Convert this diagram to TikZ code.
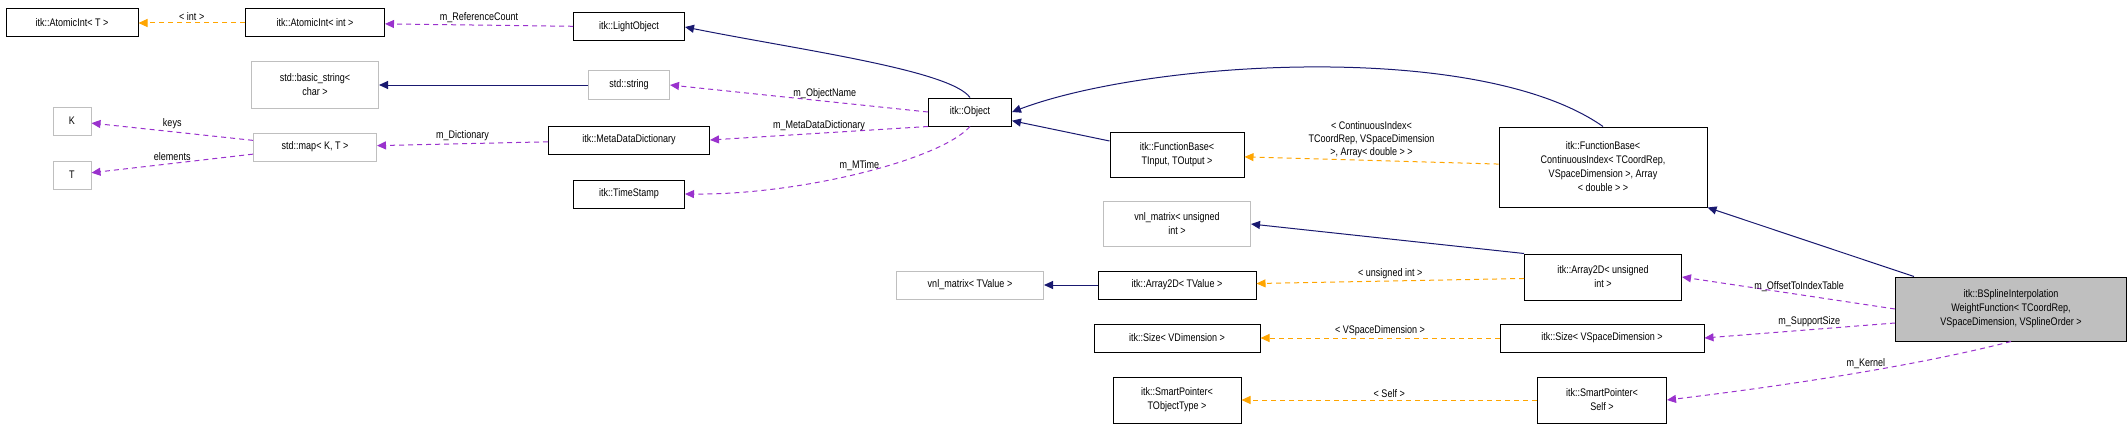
\documentclass[tikz,border=0pt]{standalone}
\usepackage{fontspec}
\setmainfont{Liberation Sans}[FakeStretch=0.82]
\usetikzlibrary{arrows.meta}
\definecolor{navy}{HTML}{191970}
\definecolor{purp}{HTML}{9A32CD}
\definecolor{orng}{HTML}{FFA500}
\tikzset{
  box/.style={draw=black,line width=1pt,inner sep=2pt,align=center,font=\fontsize{11}{14}\selectfont,minimum height=28pt},
  gbox/.style={box,draw=gray!50},
  inh/.style={navy,line width=1pt,-{Triangle[length=9pt,width=8pt]}},
  mem/.style={purp,line width=1pt,dashed,dash pattern=on 5pt off 4pt,-{Triangle[length=9pt,width=8pt]}},
  tpl/.style={orng,line width=1pt,dashed,dash pattern=on 5pt off 4pt,-{Triangle[length=9pt,width=8pt]}},
  lbl/.style={text=black,font=\fontsize{11}{13}\selectfont,align=center,inner sep=2pt}
}
\begin{document}
\begin{tikzpicture}[x=1pt,y=-1pt]
\useasboundingbox (0,0) rectangle (2128,428);
\node[box,minimum width=132pt] (aT) at (72,23) {itk::AtomicInt< T >};
\node[box,minimum width=139pt] (aI) at (315,23) {itk::AtomicInt< int >};
\node[box,minimum width=111pt] (lo) at (629,27) {itk::LightObject};
\node[gbox,minimum width=127pt,minimum height=46pt] (bs) at (315,85) {std::basic\_string<\\char >};
\node[gbox,minimum width=81pt] (ss) at (629,85) {std::string};
\node[gbox,minimum width=38pt] (K) at (72,121) {K};
\node[gbox,minimum width=38pt] (T) at (72,175) {T};
\node[gbox,minimum width=123pt] (mp) at (315,147) {std::map< K, T >};
\node[box,minimum width=161pt] (md) at (629,140) {itk::MetaDataDictionary};
\node[box,minimum width=111pt] (ts) at (629,194) {itk::TimeStamp};
\node[box,minimum width=83pt] (ob) at (970,112) {itk::Object};
\node[box,minimum width=134pt,minimum height=45pt] (fb1) at (1177,155) {itk::FunctionBase<\\TInput, TOutput >};
\node[box,minimum width=208pt,minimum height=80pt] (fb2) at (1603,167) {itk::FunctionBase<\\ContinuousIndex< TCoordRep,\\VSpaceDimension >, Array\\< double > >};
\node[gbox,minimum width=147pt,minimum height=45pt] (vu) at (1177,224) {vnl\_matrix< unsigned\\int >};
\node[box,minimum width=157pt,minimum height=46pt] (au) at (1603,277) {itk::Array2D< unsigned\\int >};
\node[gbox,minimum width=147pt] (vt) at (970,285) {vnl\_matrix< TValue >};
\node[box,minimum width=158pt] (at) at (1177,285) {itk::Array2D< TValue >};
\node[box,minimum width=166pt] (sv) at (1177,338) {itk::Size< VDimension >};
\node[box,minimum width=204pt] (ssd) at (1602,338) {itk::Size< VSpaceDimension >};
\node[box,minimum width=128pt,minimum height=46pt] (spt) at (1177,400) {itk::SmartPointer<\\TObjectType >};
\node[box,minimum width=129pt,minimum height=46pt] (sps) at (1602,400) {itk::SmartPointer<\\Self >};
\node[box,fill=gray!50,minimum width=231pt,minimum height=64pt] (bsp) at (2011,309) {itk::BSplineInterpolation\\WeightFunction< TCoordRep,\\VSpaceDimension, VSplineOrder >};

\draw[tpl] (aI) -- node[lbl,above]{< int >} (aT);
\draw[mem] (lo) -- node[lbl,above]{m\_ReferenceCount} (aI);
\draw[inh] (ob.north) .. controls (950,70) and (800,50) .. (lo.east);
\draw[inh] (ss) -- (bs);
\draw[mem] (ob.west) -- node[lbl,above,pos=0.4]{m\_ObjectName} (ss.east);
\draw[mem] (mp) -- node[lbl,above]{keys} (K);
\draw[mem] (mp) -- node[lbl,above]{elements} (T);
\draw[mem] (md) -- node[lbl,above]{m\_Dictionary} (mp);
\draw[mem] (ob.south west) -- node[lbl,above,pos=0.5]{m\_MetaDataDictionary} (md.east);
\draw[mem] (ob.south) .. controls (940,160) and (800,195) .. node[lbl,above,pos=0.5]{m\_MTime} (ts.east);
\draw[inh] (fb1) -- (ob);
\draw[inh] (fb2.north) .. controls (1480,40) and (1150,60) .. (ob.east);
\draw[tpl] (fb2) -- node[lbl,above]{< ContinuousIndex<\\TCoordRep, VSpaceDimension\\>, Array< double > >} (fb1);
\draw[inh] (bsp) -- (fb2.south east);
\draw[inh] (au.north west) -- (vu.east);
\draw[tpl] (au) -- node[lbl,above]{< unsigned int >} (at);
\draw[inh] (at) -- (vt);
\draw[mem] (bsp.west) -- node[lbl,above,pos=0.45]{m\_OffsetToIndexTable} (au.east);
\draw[mem] (bsp.west |- 1896,323) -- node[lbl,above,pos=0.45]{m\_SupportSize} (ssd.east);
\draw[mem] (bsp.south) .. controls (1900,370) and (1750,390) .. node[lbl,above,pos=0.4]{m\_Kernel} (sps.east);
\draw[tpl] (ssd) -- node[lbl,above]{< VSpaceDimension >} (sv);
\draw[tpl] (sps) -- node[lbl,above]{< Self >} (spt);
\end{tikzpicture}
\end{document}
